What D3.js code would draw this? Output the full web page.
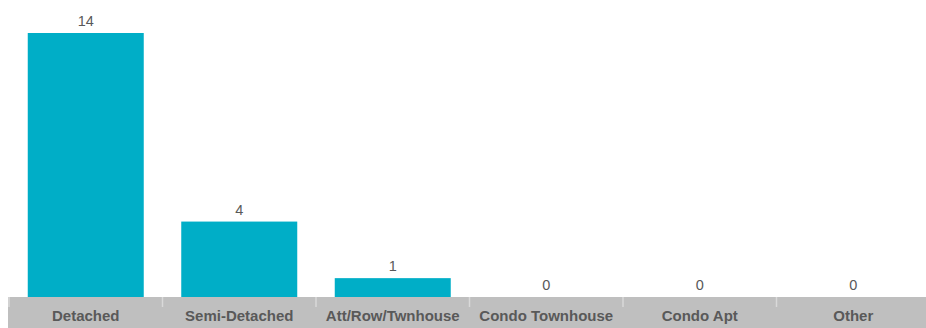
<!DOCTYPE html>
<html>
<head>
<meta charset="utf-8">
<script src="https://cdn.jsdelivr.net/npm/d3@7"></script>
<style>
  html, body { margin: 0; padding: 0; background: #fff; }
  svg { display: block; }
</style>
</head>
<body>
<svg id="chart" width="926" height="328"></svg>
<script>
const categories = ["Detached", "Semi-Detached", "Att/Row/Twnhouse", "Condo Townhouse", "Condo Apt", "Other"];
const values = [14, 4, 1, 0, 0, 0];

const W = 926, H = 328;
const baseY = 297;
const svg = d3.select("#chart");

const x = d3.scaleBand().domain(categories).range([9, 930]).paddingInner(0).paddingOuter(0);
const y = d3.scaleLinear().domain([0, 14]).range([baseY, 33]);
const barW = 116;

// axis band
svg.append("rect")
  .attr("x", 8).attr("y", baseY)
  .attr("width", W - 8).attr("height", H - baseY)
  .attr("fill", "#bfbfbf");

// separators (axis ticks at band boundaries)
const bounds = categories.map(c => x(c));
svg.selectAll("line.sep").data(bounds).enter().append("line")
  .attr("class", "sep")
  .attr("x1", d => d).attr("x2", d => d)
  .attr("y1", baseY).attr("y2", baseY + 10)
  .attr("stroke", "#d9d9d9").attr("stroke-width", 1.5);

// bars
svg.selectAll("rect.bar").data(values).enter().append("rect")
  .attr("class", "bar")
  .attr("x", (d, i) => x(categories[i]) + x.bandwidth() / 2 - barW / 2)
  .attr("y", d => y(d))
  .attr("width", barW)
  .attr("height", d => baseY - y(d))
  .attr("fill", "#00aec7");

// value labels
svg.selectAll("text.val").data(values).enter().append("text")
  .attr("class", "val")
  .attr("x", (d, i) => x(categories[i]) + x.bandwidth() / 2)
  .attr("y", d => y(d) - 7)
  .attr("text-anchor", "middle")
  .attr("font-family", "Liberation Sans, Arial, sans-serif")
  .attr("font-size", 14.5)
  .attr("fill", "#595959")
  .text(d => d);

// category labels
svg.selectAll("text.cat").data(categories).enter().append("text")
  .attr("class", "cat")
  .attr("x", d => x(d) + x.bandwidth() / 2)
  .attr("y", 321)
  .attr("text-anchor", "middle")
  .attr("font-family", "Liberation Sans, Arial, sans-serif")
  .attr("font-size", 15)
  .attr("font-weight", "bold")
  .attr("fill", "#595959")
  .text(d => d);
</script>
</body>
</html>
